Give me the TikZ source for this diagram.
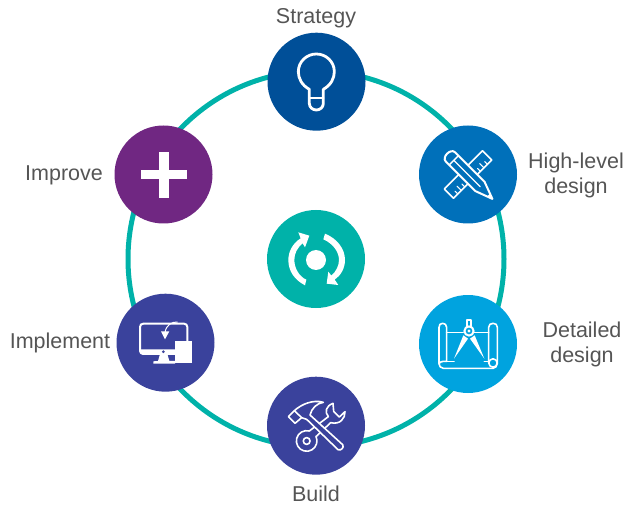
\documentclass[tikz,border=0pt]{standalone}
\usepackage{fontspec}
\setmainfont{Liberation Sans}
\definecolor{ringc}{HTML}{00B2A9}
\definecolor{strategyc}{HTML}{004F98}
\definecolor{highc}{HTML}{0070BA}
\definecolor{detailc}{HTML}{00A3DF}
\definecolor{buildc}{HTML}{3A429C}
\definecolor{improvec}{HTML}{702782}
\definecolor{labelc}{HTML}{555555}
\tikzset{
  stage/.style={circle,minimum size=98pt,inner sep=0pt,fill=#1},
  lbl/.style={text=labelc,font=\fontsize{21.5}{25}\selectfont,inner sep=0pt,align=center},
  icon/.style={draw=white,line width=1.6pt,line join=round,line cap=round},
  zoomed/.style={x=0.33333pt,y=-0.33333pt}
}
\begin{document}
\begin{tikzpicture}[x=1pt,y=-1pt]
\useasboundingbox (0,0) rectangle (624,505);
\node[circle,draw=ringc,line width=5pt,minimum size=376pt,inner sep=0pt] (ring) at (316,259) {};
\node[stage=strategyc] (strategy) at (316.5,81.7) {};
\node[stage=highc] (high) at (468,174.5) {};
\node[stage=detailc] (detail) at (468,344) {};
\node[stage=buildc] (build) at (316,425.7) {};
\node[stage=buildc] (implement) at (165.5,342.7) {};
\node[stage=improvec] (improve) at (163.5,174.5) {};
\node[stage=ringc] (center) at (316,259) {};
\node[lbl] (l1) at (316,18) {Strategy};
\node[lbl] (l2) at (576,175) {High-level\\design};
\node[lbl] (l3) at (582,344.5) {Detailed\\design};
\node[lbl] (l4) at (316,494) {Build};
\node[lbl] (l5) at (60,343) {Implement};
\node[lbl] (l6) at (64,175) {Improve};
% bulb
\begin{scope}[shift={(250,20)},zoomed]
\draw[icon,line width=2.8pt] (178,208) .. controls (155,195) and (145,175) .. (145,155)
  .. controls (145,125) and (170,102) .. (199,102)
  .. controls (228,102) and (253,125) .. (253,155)
  .. controls (253,175) and (243,195) .. (220,208)
  -- (220,250) .. controls (220,262) and (210,270) .. (199,270)
  .. controls (188,270) and (178,262) .. (178,250) -- cycle;
\draw[icon,line width=2.2pt] (178,233) -- (220,233);
\end{scope}
% ruler and pencil
\begin{scope}[shift={(468,174.5)}]
\begin{scope}[rotate=45]
\draw[icon] (-27,-6.5) rectangle (27,6.5);
\foreach \t/\l in {-21/4,-16/6,-11/4,11/4,16/6,21/4} \draw[icon,line width=1pt] (\t,6.5) -- (\t,6.5-\l);
\end{scope}
\begin{scope}[rotate=-45]
\draw[icon,fill=highc,line width=2pt] (-25,-6.5) -- (17,-6.5) -- (34.5,0) -- (17,6.5) -- (-25,6.5)
  .. controls (-31,6.5) and (-31,-6.5) .. (-25,-6.5) -- cycle;
\draw[icon,line width=1.4pt] (-20,0) -- (17,0) (-20,-6.5) -- (-20,6.5);
\fill[white] (29,-2.2) -- (34.5,0) -- (29,2.2) -- cycle;
\end{scope}
\end{scope}
% blueprint
\begin{scope}[shift={(410,290)},zoomed]
\draw[icon] (110,128) -- (110,112) .. controls (110,104) and (104,100) .. (98,100)
  .. controls (91,100) and (87,104) .. (87,112) -- (87,220)
  .. controls (87,228) and (92,235) .. (100,235) -- (250,235);
\draw[icon] (110,128) -- (160,128) (192,128) -- (236,128);
\draw[icon] (110,128) -- (110,214) -- (100,214) .. controls (92,214) and (87,218) .. (87,222);
\draw[icon] (110,214) -- (132,214) (223,214) -- (235,214);
\draw[icon] (236,218) -- (236,112) .. controls (236,104) and (242,100) .. (249,100)
  .. controls (257,100) and (262,104) .. (262,112) -- (262,220);
\draw[icon] (249,219) circle[radius=4.2pt];
\draw[icon] (249,235) .. controls (256,235) and (262,228) .. (262,219);
\draw[icon,fill=detailc] (171,110) -- (171,90) -- (183,90) -- (183,110);
\fill[white] (160,136) -- (132,206) -- (174,146) -- cycle;
\fill[white] (194,136) -- (223,206) -- (180,146) -- cycle;
\draw[icon,fill=detailc,line width=2pt] (177,123) circle[radius=4.6pt];
\fill[white] (177,123) circle[radius=1.7pt];
\end{scope}
% hammer and wrench
\begin{scope}[shift={(260,370)},zoomed]
\draw[icon] (148,183) arc[start angle=75,end angle=385,radius=10.3pt] -- (212,158)
  .. controls (240,165) and (256,145) .. (255,125) -- (238,141) -- (221,124) -- (219,100)
  .. controls (198,108) and (193,125) .. (205,140) -- cycle;
\draw[icon] (140,213) circle[radius=3.4pt];
\draw[icon,fill=buildc] (85,140) -- (103,122) .. controls (125,102) and (160,88) .. (190,97)
  .. controls (170,100) and (155,115) .. (150,135) -- (248,224)
  .. controls (253,232) and (244,243) .. (234,239) -- (140,148) -- (125,143) -- (105,160) -- cycle;
\draw[icon] (103,122) -- (125,143);
\end{scope}
% monitor
\begin{scope}[shift={(110,290)},zoomed]
\draw[icon,line width=2pt] (100,101) -- (222,101) .. controls (228,101) and (232,105) .. (232,111) -- (232,160)
  (195,192) -- (100,192) .. controls (94,192) and (90,188) .. (90,182) -- (90,111) .. controls (90,105) and (94,101) .. (100,101);
\fill[white] (92,178) -- (195,178) -- (195,194) -- (100,194) .. controls (94,194) and (90,190) .. (90,182) -- cycle;
\fill[white] (150,192) -- (172,192) -- (178,213) -- (195,213) -- (195,221) -- (130,221) -- (130,214) -- (144,213) -- cycle;
\fill[buildc] (160,185) circle[radius=1.5pt];
\fill[white] (195,153) rectangle (246,220);
\fill[white] (153,124) -- (178,124) -- (165,148) -- cycle;
\draw[white,line width=1pt] (203,96) .. controls (185,95) and (168,105) .. (165,128);
\end{scope}
% plus
\fill[white] (159.3,151.7) rectangle (168.7,197.7);
\fill[white] (141,170) rectangle (187,179.3);
% cycle
\begin{scope}[shift={(260,205)},zoomed]
\fill[white] (168,165) circle[radius=10pt];
\fill[white] (135,241) .. controls (105,225) and (85,200) .. (85,165)
  .. controls (85,140) and (98,115) .. (122,100) -- (115,82) -- (148,92) -- (135,127) -- (128,115)
  .. controls (112,128) and (103,145) .. (103,165) .. controls (103,190) and (118,215) .. (139,224) -- cycle;
\fill[white] (195,86) .. controls (230,100) and (255,130) .. (255,165)
  .. controls (255,190) and (242,212) .. (224,224) -- (235,240) -- (200,236) -- (205,200) -- (214,212)
  .. controls (228,200) and (237,182) .. (237,165) .. controls (237,140) and (218,115) .. (190,103) -- cycle;
\end{scope}
\end{tikzpicture}
\end{document}
